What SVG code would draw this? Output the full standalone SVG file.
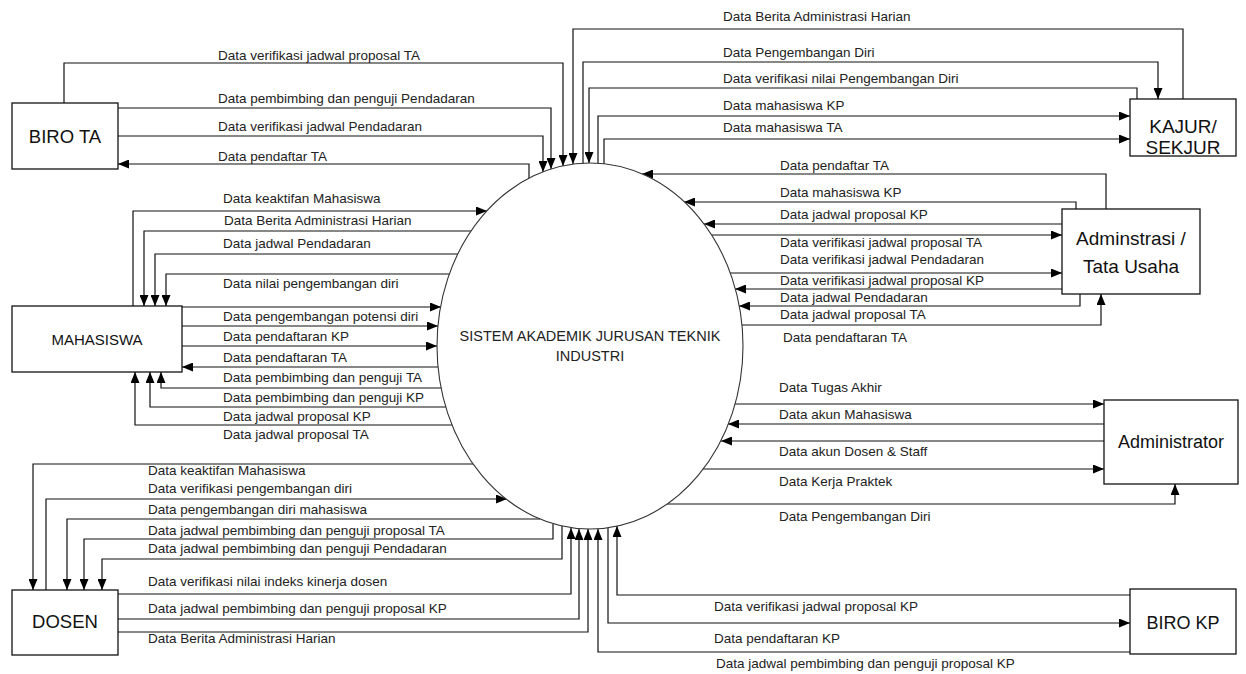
<svg xmlns="http://www.w3.org/2000/svg" width="1246" height="674" viewBox="0 0 1246 674">
<style>
.bg{fill:#fff}
.box{fill:#fff;stroke:#111;stroke-width:1.3}
.sys{fill:#fff;stroke:#333;stroke-width:1.1}
.c{fill:none;stroke:#111;stroke-width:1.2;marker-end:url(#ah)}
.n{fill:none;stroke:#111;stroke-width:1.2}
.lb{font-family:"Liberation Sans",Arial,sans-serif;font-size:13.5px;fill:#222}
.bt{font-family:"Liberation Sans",Arial,sans-serif;font-size:18.5px;fill:#111;text-anchor:middle}
.st{font-family:"Liberation Sans",Arial,sans-serif;font-size:14.5px;fill:#222;text-anchor:middle}
</style>
<defs>
<marker id="ah" markerWidth="11" markerHeight="9" refX="11" refY="4.5" orient="auto" markerUnits="userSpaceOnUse">
<path d="M0,0 L11,4.5 L0,9 z" fill="#000"/>
</marker>
</defs>
<rect class="bg" x="0" y="0" width="1246" height="674"/>

<g id="connectors">
<!-- BIRO TA -->
<path class="c" d="M64,103 V63 H563 V166"/>
<path class="c" d="M118,108 H551 V169"/>
<path class="c" d="M118,136 H543 V172"/>
<path class="c" d="M529,178 V164 H118"/>
<!-- KAJUR -->
<path class="c" d="M1183,99 V29 H573 V164"/>
<path class="c" d="M583,163 V62 H1158 V99"/>
<path class="c" d="M1137,99 V88 H589 V163"/>
<path class="c" d="M598,163 V116 H1130"/>
<path class="c" d="M604,164 V139 H1130"/>
<!-- Adminstrasi -->
<path class="c" d="M1106,209 V174 H642"/>
<path class="c" d="M1076,209 V202 H684"/>
<path class="c" d="M1062,224 H704"/>
<path class="c" d="M712,235 H1062"/>
<path class="c" d="M730,273 H1062"/>
<path class="c" d="M1062,289 H735"/>
<path class="c" d="M1080,294 V306 H739"/>
<path class="c" d="M742,325 H1101 V294"/>
<!-- MAHASISWA -->
<path class="c" d="M133,306 V211 H487"/>
<path class="c" d="M471,231 H144 V306"/>
<path class="c" d="M458,254 H155 V306"/>
<path class="c" d="M455,274 H166 V306"/>
<path class="c" d="M182,307 H441"/>
<path class="c" d="M182,326 H438"/>
<path class="c" d="M182,346 H437"/>
<path class="c" d="M438,367 H182"/>
<path class="c" d="M441,388 H161 V372"/>
<path class="c" d="M446,407 H150 V372"/>
<path class="c" d="M452,425 H135 V372"/>
<!-- Administrator -->
<path class="c" d="M735,404 H1104"/>
<path class="c" d="M1104,424 H728"/>
<path class="c" d="M1104,441 H721"/>
<path class="c" d="M703,469 H1104"/>
<path class="c" d="M667,504 H1175 V484"/>
<!-- DOSEN -->
<path class="c" d="M473,464 H33 V590"/>
<path class="c" d="M46,590 V499 H507"/>
<path class="c" d="M540,519 H67 V590"/>
<path class="c" d="M553,524 V539 H84 V590"/>
<path class="c" d="M562,526 V559 H102 V590"/>
<path class="c" d="M118,594 H571 V528"/>
<path class="c" d="M118,619 H579 V529"/>
<path class="c" d="M118,632 H588 V529"/>
<!-- BIRO KP -->
<path class="c" d="M1130,595 H617 V526"/>
<path class="c" d="M608,528 V623 H1130"/>
<path class="c" d="M1130,652 H598 V529"/>
</g>

<g id="system">
<ellipse class="sys" cx="590" cy="346" rx="153" ry="183"/>
<text class="st" x="590" y="341">SISTEM AKADEMIK JURUSAN TEKNIK</text>
<text class="st" x="590" y="361">INDUSTRI</text>
</g>

<g id="biro-ta">
<rect class="box" x="12" y="103" width="106" height="66"/>
<text class="bt" x="65" y="143">BIRO TA</text>
</g>
<g id="kajur">
<rect class="box" x="1130" y="99" width="106" height="57"/>
<text class="bt" x="1183" y="133" style="font-size:19px">KAJUR/</text>
<text class="bt" x="1183" y="154" style="font-size:19px">SEKJUR</text>
</g>
<g id="adminstrasi">
<rect class="box" x="1062" y="209" width="138" height="85"/>
<text class="bt" x="1131" y="245" style="font-size:19px">Adminstrasi /</text>
<text class="bt" x="1131" y="273" style="font-size:19px">Tata Usaha</text>
</g>
<g id="mahasiswa">
<rect class="box" x="12" y="306" width="170" height="66"/>
<text class="bt" x="97" y="345" style="font-size:15px">MAHASISWA</text>
</g>
<g id="administrator">
<rect class="box" x="1104" y="400" width="134" height="84"/>
<text class="bt" x="1171" y="448" style="font-size:18px">Administrator</text>
</g>
<g id="dosen">
<rect class="box" x="12" y="590" width="106" height="65"/>
<text class="bt" x="65" y="628">DOSEN</text>
</g>
<g id="biro-kp">
<rect class="box" x="1130" y="589" width="106" height="65"/>
<text class="bt" x="1183" y="629" style="font-size:18px">BIRO KP</text>
</g>

<g id="labels">
<text class="lb" x="218" y="60">Data verifikasi jadwal proposal TA</text>
<text class="lb" x="218" y="103">Data pembimbing dan penguji Pendadaran</text>
<text class="lb" x="218" y="131">Data verifikasi jadwal Pendadaran</text>
<text class="lb" x="218" y="161">Data pendaftar TA</text>

<text class="lb" x="723" y="21">Data Berita Administrasi Harian</text>
<text class="lb" x="723" y="57">Data Pengembangan Diri</text>
<text class="lb" x="723" y="83">Data verifikasi nilai Pengembangan Diri</text>
<text class="lb" x="723" y="110">Data mahasiswa KP</text>
<text class="lb" x="723" y="132">Data mahasiswa TA</text>

<text class="lb" x="780" y="170">Data pendaftar TA</text>
<text class="lb" x="780" y="197">Data mahasiswa KP</text>
<text class="lb" x="780" y="219">Data jadwal proposal KP</text>
<text class="lb" x="780" y="247">Data verifikasi jadwal proposal TA</text>
<text class="lb" x="780" y="264">Data verifikasi jadwal Pendadaran</text>
<text class="lb" x="780" y="285">Data verifikasi jadwal proposal KP</text>
<text class="lb" x="780" y="302">Data jadwal Pendadaran</text>
<text class="lb" x="780" y="319">Data jadwal proposal TA</text>
<text class="lb" x="783" y="342">Data pendaftaran TA</text>

<text class="lb" x="223" y="203">Data keaktifan Mahasiswa</text>
<text class="lb" x="224" y="225">Data Berita Administrasi Harian</text>
<text class="lb" x="223" y="248">Data jadwal Pendadaran</text>
<text class="lb" x="223" y="288">Data nilai pengembangan diri</text>
<text class="lb" x="223" y="321">Data pengembangan potensi diri</text>
<text class="lb" x="223" y="341">Data pendaftaran KP</text>
<text class="lb" x="223" y="362">Data pendaftaran TA</text>
<text class="lb" x="223" y="382">Data pembimbing dan penguji TA</text>
<text class="lb" x="223" y="402">Data pembimbing dan penguji KP</text>
<text class="lb" x="223" y="421">Data jadwal proposal KP</text>
<text class="lb" x="223" y="439">Data jadwal proposal TA</text>

<text class="lb" x="779" y="392">Data Tugas Akhir</text>
<text class="lb" x="779" y="419">Data akun Mahasiswa</text>
<text class="lb" x="779" y="456">Data akun Dosen &amp; Staff</text>
<text class="lb" x="779" y="486">Data Kerja Praktek</text>
<text class="lb" x="779" y="521">Data Pengembangan Diri</text>

<text class="lb" x="148" y="475">Data keaktifan Mahasiswa</text>
<text class="lb" x="148" y="493">Data verifikasi pengembangan diri</text>
<text class="lb" x="148" y="514">Data pengembangan diri mahasiswa</text>
<text class="lb" x="148" y="535">Data jadwal pembimbing dan penguji proposal TA</text>
<text class="lb" x="148" y="553">Data jadwal pembimbing dan penguji Pendadaran</text>
<text class="lb" x="148" y="586">Data verifikasi nilai indeks kinerja dosen</text>
<text class="lb" x="148" y="613">Data jadwal pembimbing dan penguji proposal KP</text>
<text class="lb" x="148" y="643">Data Berita Administrasi Harian</text>

<text class="lb" x="714" y="611">Data verifikasi jadwal proposal KP</text>
<text class="lb" x="714" y="643">Data pendaftaran KP</text>
<text class="lb" x="716" y="668">Data jadwal pembimbing dan penguji proposal KP</text>
</g>
</svg>
